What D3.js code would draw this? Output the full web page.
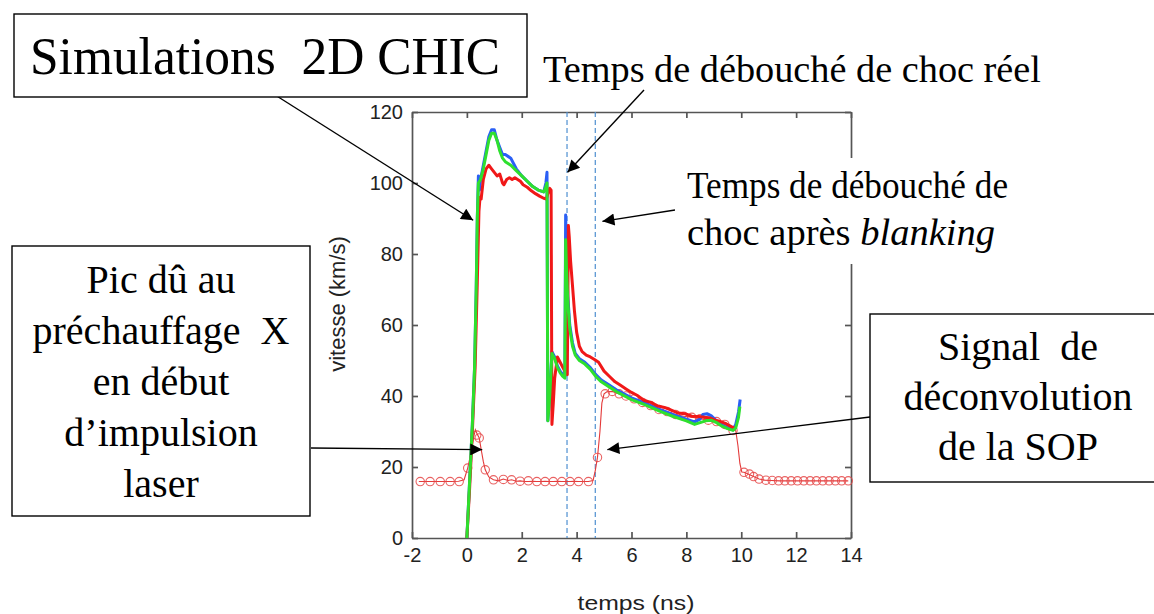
<!DOCTYPE html>
<html>
<head>
<meta charset="utf-8">
<script src="https://cdn.jsdelivr.net/npm/d3@7"></script>
<style>
  body { margin: 0; background: #fff; }
  svg { display: block; }
  .axis text { font-family: "Liberation Sans", Arial, sans-serif; font-size: 20px; fill: #222; }
  .axis path, .axis line { stroke: #555; stroke-width: 1.7; }
  .note { font-family: "Liberation Serif", "Times New Roman", serif; fill: #000; }
</style>
</head>
<body>
<svg id="chart" width="1154" height="614"></svg>
<script>
// Simulations 2D CHIC : temps (ns) / vitesse (km/s)
var blueT = [0, 0.1, 0.2, 0.28, 0.34, 0.38, 0.42, 0.46, 0.5, 0.6, 0.7, 0.8, 0.9, 1.0, 1.1, 1.2, 1.3, 1.4, 1.5, 1.6, 1.7, 1.8, 2.0, 2.2, 2.4, 2.6, 2.8, 2.88, 2.92, 2.95, 3.02, 3.1, 3.2, 3.3, 3.4, 3.5, 3.57, 3.6, 3.63, 3.68, 3.75, 3.85, 3.95, 4.1, 4.3, 4.5, 4.7, 4.9, 5.2, 5.5, 6.0, 6.5, 7.0, 7.5, 8.0, 8.3, 8.5, 8.6, 8.75, 8.9, 9.1, 9.3, 9.5, 9.7, 9.8, 9.9, 9.96];
var blueV = [0, 16, 32, 48, 70, 90, 102, 98, 101, 105, 109, 113, 115, 115, 112, 110, 108, 108, 107.5, 107, 105.5, 104, 102, 100.5, 99, 98, 97.5, 100, 103, 33, 40, 52.5, 51, 48.5, 47, 46, 45.5, 91, 80, 68, 60, 55, 52, 50.5, 49.5, 48, 46, 44.5, 43, 41.5, 39.5, 38, 36.3, 34.8, 33.5, 32.7, 33.5, 34.8, 35, 34.5, 33, 31.8, 31, 30.5, 32, 35.5, 39];

var redT = [0, 0.1, 0.2, 0.3, 0.38, 0.44, 0.48, 0.52, 0.6, 0.7, 0.8, 0.9, 1.0, 1.1, 1.2, 1.3, 1.35, 1.45, 1.55, 1.65, 1.75, 1.85, 1.95, 2.05, 2.2, 2.35, 2.5, 2.65, 2.8, 2.9, 2.95, 3.02, 3.07, 3.1, 3.15, 3.2, 3.3, 3.4, 3.5, 3.6, 3.66, 3.7, 3.73, 3.78, 3.85, 3.92, 4.0, 4.1, 4.2, 4.35, 4.5, 4.65, 4.8, 5.0, 5.2, 5.4, 5.6, 5.8, 6.0, 6.2, 6.45, 6.7, 6.95, 7.2, 7.45, 7.7, 7.95, 8.2, 8.45, 8.65, 8.85, 9.05, 9.25, 9.45, 9.65, 9.8];
var redV = [0, 14, 30, 48, 72, 92, 96, 95.5, 101, 104, 105, 104, 103, 102, 102.5, 100, 99.5, 101, 101.5, 101, 101.5, 101, 100.5, 99.5, 98.8, 97.8, 97, 96.3, 95.7, 95.5, 97, 98.5, 98, 32, 38, 45, 51, 49.5, 48, 46.5, 46, 88, 85, 78, 71, 64, 58, 54, 52.5, 51.5, 51, 50.3, 49.5, 47, 45.5, 44, 43, 42, 41, 40.2, 38.8, 38.2, 37.2, 36.8, 36, 35.2, 35, 34.3, 34.2, 34, 33.8, 33.2, 32.8, 32.2, 31.3, 30.8];

var greenT = [0, 0.1, 0.2, 0.28, 0.34, 0.38, 0.42, 0.5, 0.6, 0.7, 0.8, 0.9, 1.0, 1.1, 1.2, 1.3, 1.4, 1.5, 1.6, 1.8, 2.0, 2.2, 2.4, 2.6, 2.8, 2.88, 2.92, 2.95, 3.02, 3.1, 3.2, 3.3, 3.4, 3.5, 3.57, 3.6, 3.63, 3.68, 3.75, 3.85, 3.95, 4.1, 4.3, 4.5, 4.7, 4.9, 5.2, 5.5, 6.0, 6.5, 7.0, 7.5, 8.0, 8.3, 8.5, 8.7, 8.9, 9.1, 9.3, 9.5, 9.7, 9.8, 9.9, 9.95];
var greenV = [0, 16, 32, 48, 70, 90, 100, 101, 104, 108, 112, 114, 114, 112, 109, 107, 106, 105.5, 105, 103.5, 102, 100.5, 99, 98, 97.5, 99, 100, 33, 40, 52, 50.5, 48, 46.5, 45.5, 45, 84, 76, 66, 59, 54, 51.5, 50, 49, 47.5, 45.5, 44, 42.5, 41, 39, 37.5, 35.8, 34.3, 33, 32, 32.5, 33, 33.2, 32.5, 31.5, 30.8, 30.3, 31, 34, 37];

// Signal de déconvolution de la SOP (trait fin + marqueurs)
var sopT = [-1.75, -1.5, -1.2, -0.9, -0.6, -0.3, -0.1, 0.03, 0.15, 0.25, 0.31, 0.38, 0.45, 0.52, 0.6, 0.67, 0.8, 0.97, 1.15, 1.33, 1.5, 1.63, 1.8, 1.94, 2.1, 2.24, 2.4, 2.55, 2.7, 2.85, 3.0, 3.15, 3.3, 3.46, 3.6, 3.76, 3.9, 4.07, 4.25, 4.43, 4.6, 4.68, 4.76, 4.85, 4.92, 5.0, 5.1, 5.3, 5.55, 5.8, 6.1, 6.4, 6.7, 7.0, 7.3, 7.6, 7.9, 8.2, 8.5, 8.8, 9.1, 9.4, 9.65, 9.8, 9.88, 9.95, 10.02, 10.1, 10.25, 10.45, 10.65, 10.85, 11.1, 11.4, 11.7, 12.0, 12.3, 12.6, 12.9, 13.2, 13.5, 13.9];
var sopV = [15.9, 15.9, 15.9, 15.9, 15.9, 16.0, 16.4, 19.7, 24, 28.5, 30.5, 29.2, 28.2, 25, 21.5, 19.2, 17.2, 16.4, 16.1, 16.6, 16.2, 16.4, 16.0, 16.1, 15.9, 15.9, 16.0, 15.9, 15.9, 16.0, 15.9, 15.9, 16.0, 15.9, 15.9, 15.9, 16.0, 15.9, 15.9, 15.9, 16.2, 19, 22.7, 30, 38, 40.6, 41.2, 41.3, 40.6, 40.0, 39.2, 38.2, 37.3, 36.2, 35.6, 34.8, 34.3, 34.0, 33.6, 33.2, 32.8, 32.0, 30.8, 30.2, 26, 21, 18.6, 18.5, 18.0, 17.3, 16.6, 16.3, 16.2, 16.1, 16.1, 16.1, 16.1, 16.1, 16.1, 16.1, 16.1, 16.1];
var sopMarkT = [-1.7, -1.34, -0.97, -0.61, -0.28, 0.03, 0.36, 0.45, 0.67, 0.97, 1.33, 1.63, 1.94, 2.24, 2.55, 2.85, 3.15, 3.46, 3.76, 4.07, 4.43, 4.76, 5.04, 5.3, 5.55, 5.8, 6.1, 6.4, 6.7, 7.0, 7.3, 7.6, 7.9, 8.2, 8.5, 8.8, 9.1, 9.4, 9.7, 10.1, 10.3, 10.45, 10.65, 10.9, 11.13, 11.36, 11.59, 11.82, 12.05, 12.28, 12.51, 12.74, 12.97, 13.2, 13.43, 13.66, 13.9];
var sopMarkV = [15.9, 15.9, 15.9, 15.9, 15.9, 19.7, 29, 28.2, 19.2, 16.4, 16.5, 16.4, 16.0, 16.1, 15.9, 15.9, 15.9, 15.9, 15.9, 15.9, 15.9, 22.7, 40.6, 41.3, 40.6, 40.0, 39.2, 38.2, 37.3, 36.2, 35.6, 34.8, 34.3, 34.0, 33.6, 33.2, 32.8, 32.0, 30.3, 18.5, 18.0, 17.3, 16.6, 16.3, 16.2, 16.1, 16.1, 16.1, 16.1, 16.1, 16.1, 16.1, 16.1, 16.1, 16.1, 16.1, 16.1];

// Temps de débouché de choc (réel / après blanking)
var shockTimes = [3.65, 4.68];

// Axes
var xTicks = [-2, 0, 2, 4, 6, 8, 10, 12, 14];
var yTicks = [0, 20, 40, 60, 80, 100, 120];

var margin = { top: 112, left: 412 },
  width = 439,
  height = 426;

var svg = d3.select('#chart');

var x = d3.scaleLinear().domain([-2, 14]).range([0, width]);
var y = d3.scaleLinear().domain([0, 120]).range([height, 0]);

var g = svg.append('g')
  .attr('transform', 'translate(' + margin.left + ',' + margin.top + ')');

// Cadre + graduations vers l'intérieur
g.append('g').attr('class', 'axis')
  .attr('transform', 'translate(0,' + height + ')')
  .call(d3.axisBottom(x).tickValues(xTicks).tickFormat(function (d) { return String(d); })
    .tickSizeInner(-6).tickSizeOuter(0).tickPadding(10));
g.append('g').attr('class', 'axis')
  .call(d3.axisTop(x).tickValues(xTicks).tickFormat('').tickSizeInner(-6).tickSizeOuter(0));
g.append('g').attr('class', 'axis')
  .call(d3.axisLeft(y).tickValues(yTicks).tickFormat(function (d) { return String(d); })
    .tickSizeInner(-6).tickSizeOuter(0).tickPadding(9));
g.append('g').attr('class', 'axis')
  .attr('transform', 'translate(' + width + ',0)')
  .call(d3.axisRight(y).tickValues(yTicks).tickFormat('').tickSizeInner(-6).tickSizeOuter(0));

// Titres des axes
svg.append('text')
  .attr('x', 636)
  .attr('y', 610)
  .attr('text-anchor', 'middle')
  .attr('textLength', 117)
  .attr('lengthAdjust', 'spacingAndGlyphs')
  .style('font-family', '"Liberation Sans", Arial, sans-serif')
  .style('font-size', '20px')
  .style('fill', '#222')
  .text('temps (ns)');

svg.append('text')
  .attr('transform', 'translate(345,304) rotate(-90)')
  .attr('text-anchor', 'middle')
  .style('font-family', '"Liberation Sans", Arial, sans-serif')
  .style('font-size', '22px')
  .style('fill', '#222')
  .text('vitesse (km/s)');

// Lignes verticales pointillées
g.selectAll('.shock')
  .data(shockTimes)
  .enter()
  .append('line')
  .attr('x1', function (d) { return x(d); })
  .attr('x2', function (d) { return x(d); })
  .attr('y1', y(120))
  .attr('y2', y(0))
  .style('stroke', '#4f8fd0')
  .style('stroke-width', 1.2)
  .style('stroke-dasharray', '5,3');

function zipData(ts, vs) {
  return ts.map(function (t, i) { return [t, vs[i]]; });
}

var line = d3.line()
  .x(function (d) { return x(d[0]); })
  .y(function (d) { return y(d[1]); });

// Signal SOP
g.append('path')
  .datum(zipData(sopT, sopV))
  .attr('d', line)
  .style('fill', 'none')
  .style('stroke', '#e43a3a')
  .style('stroke-width', 1.1);

g.selectAll('.mark')
  .data(zipData(sopMarkT, sopMarkV))
  .enter()
  .append('circle')
  .attr('cx', function (d) { return x(d[0]); })
  .attr('cy', function (d) { return y(d[1]); })
  .attr('r', 4.2)
  .style('fill', 'none')
  .style('stroke', '#e54848')
  .style('stroke-width', 1.1)
  .style('opacity', 0.85);

// Simulations
var series = [
  { t: blueT, v: blueV, color: '#2a5ff5' },
  { t: redT, v: redV, color: '#f01818' },
  { t: greenT, v: greenV, color: '#2ee02e' }
];

series.forEach(function (s) {
  g.append('path')
    .datum(zipData(s.t, s.v))
    .attr('d', line)
    .style('fill', 'none')
    .style('stroke', s.color)
    .style('stroke-width', 3)
    .style('stroke-linejoin', 'round');
});

// Flèches
svg.append('defs').append('marker')
  .attr('id', 'arrow')
  .attr('viewBox', '0 0 10 10')
  .attr('refX', 10)
  .attr('refY', 5)
  .attr('markerUnits', 'userSpaceOnUse')
  .attr('markerWidth', 16)
  .attr('markerHeight', 12)
  .attr('orient', 'auto')
  .append('path')
  .attr('d', 'M0,0 L10,5 L0,10 z')
  .style('fill', '#000');

// pointes en coordonnées des données, départs depuis les étiquettes
var arrows = [
  { from: [272, 93], to: [0.23, 89.5] },
  { from: [644, 90], to: [3.67, 103] },
  { from: [675, 210], to: [4.94, 89.2] },
  { from: [311, 448], to: [0.56, 24.9] },
  { from: [870, 417], to: [5.12, 24.9] }
];

// Fond blanc derrière le texte "blanking" (masque le cadre)
svg.append('rect')
  .attr('x', 680).attr('y', 158).attr('width', 335).attr('height', 106)
  .style('fill', '#fff');

arrows.forEach(function (a) {
  svg.append('line')
    .attr('x1', a.from[0])
    .attr('y1', a.from[1])
    .attr('x2', margin.left + x(a.to[0]))
    .attr('y2', margin.top + y(a.to[1]))
    .style('stroke', '#000')
    .style('stroke-width', 1.4)
    .attr('marker-end', 'url(#arrow)');
});

// Boîtes de texte
function box(x0, y0, w, h) {
  svg.append('rect')
    .attr('x', x0).attr('y', y0).attr('width', w).attr('height', h)
    .style('fill', '#fff')
    .style('stroke', '#000')
    .style('stroke-width', 1.4);
}

// une ligne de texte ; parts = chaîne ou liste de {text, italic}
function note(parts, x0, y0, size, anchor, len) {
  var t = svg.append('text')
    .attr('class', 'note')
    .attr('x', x0)
    .attr('y', y0)
    .attr('text-anchor', anchor)
    .style('font-size', size + 'px');
  if (len) {
    t.attr('textLength', len).attr('lengthAdjust', 'spacingAndGlyphs');
  }
  if (typeof parts === 'string') {
    t.text(parts);
  } else {
    parts.forEach(function (p) {
      t.append('tspan').style('font-style', p.italic ? 'italic' : 'normal').text(p.text);
    });
  }
}

box(14, 14, 513, 83);
note('Simulations\u00a0 2D CHIC', 30, 74, 52, 'start', 470);

note('Temps de débouché de choc réel', 543, 82, 38, 'start', 498);

note('Temps de débouché de', 687, 198, 37, 'start', 321);
note([{ text: 'choc après ' }, { text: 'blanking', italic: true }], 687, 245, 37, 'start', 308);

box(12, 246, 298, 270);
['Pic dû au', 'préchauffage\u00a0 X', 'en début', 'd’impulsion', 'laser'].forEach(function (l, i) {
  note(l, 161, 293 + i * 51, 40, 'middle');
});

box(870, 314, 290, 168);
['Signal\u00a0 de', 'déconvolution', 'de la SOP'].forEach(function (l, i) {
  note(l, 1018, 360 + i * 50, 40, 'middle');
});
</script>
</body>
</html>
